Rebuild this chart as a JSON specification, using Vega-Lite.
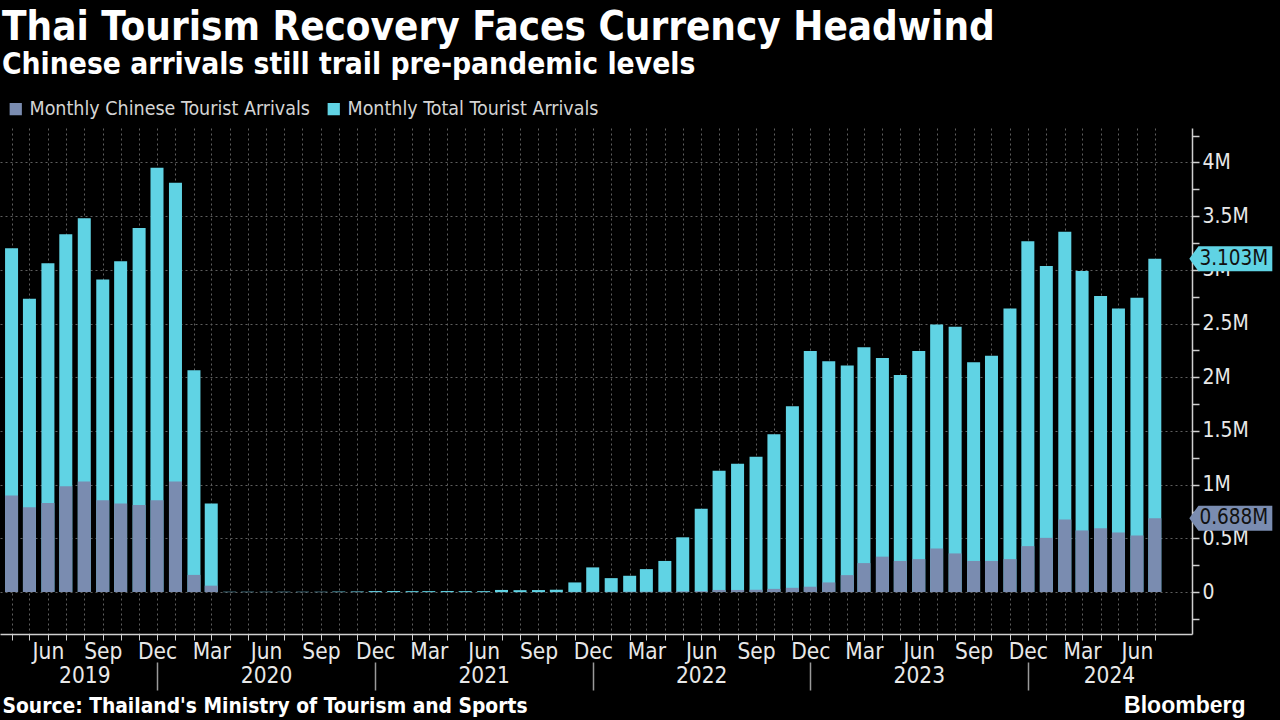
{
  "$schema": "https://vega.github.io/schema/vega-lite/v6.json",
  "autosize": {"type": "none"},
  "width": 1192,
  "height": 506,
  "padding": {"left": 0, "top": 128, "right": 88, "bottom": 86},
  "background": "#000000",
  "config": {"view": {"stroke": null}, "font": "DejaVu Sans Condensed"},
  "title": {
    "text": "Thai Tourism Recovery Faces Currency Headwind",
    "subtitle": "Chinese arrivals still trail pre-pandemic levels",
    "anchor": "start",
    "color": "#ffffff",
    "subtitleColor": "#ffffff",
    "font": "DejaVu Sans Condensed",
    "subtitleFont": "DejaVu Sans Condensed",
    "fontSize": 40,
    "subtitleFontSize": 29.7,
    "fontWeight": "bold",
    "subtitleFontWeight": "bold",
    "subtitlePadding": 3,
    "offset": 3,
    "dx": 2
  },
  "datasets": {
    "arrivals": [
      {"month": "2019-04-01", "total": 3.2, "chinese": 0.9},
      {"month": "2019-05-01", "total": 2.73, "chinese": 0.79},
      {"month": "2019-06-01", "total": 3.06, "chinese": 0.83},
      {"month": "2019-07-01", "total": 3.33, "chinese": 0.985},
      {"month": "2019-08-01", "total": 3.48, "chinese": 1.03},
      {"month": "2019-09-01", "total": 2.91, "chinese": 0.855},
      {"month": "2019-10-01", "total": 3.08, "chinese": 0.825},
      {"month": "2019-11-01", "total": 3.39, "chinese": 0.81},
      {"month": "2019-12-01", "total": 3.95, "chinese": 0.855},
      {"month": "2020-01-01", "total": 3.81, "chinese": 1.03},
      {"month": "2020-02-01", "total": 2.065, "chinese": 0.16},
      {"month": "2020-03-01", "total": 0.825, "chinese": 0.06},
      {"month": "2020-04-01", "total": 0.003, "chinese": 0.002},
      {"month": "2020-05-01", "total": 0.003, "chinese": 0.002},
      {"month": "2020-06-01", "total": 0.003, "chinese": 0.002},
      {"month": "2020-07-01", "total": 0.003, "chinese": 0.002},
      {"month": "2020-08-01", "total": 0.003, "chinese": 0.002},
      {"month": "2020-09-01", "total": 0.003, "chinese": 0.002},
      {"month": "2020-10-01", "total": 0.005, "chinese": 0.002},
      {"month": "2020-11-01", "total": 0.006, "chinese": 0.002},
      {"month": "2020-12-01", "total": 0.01, "chinese": 0.002},
      {"month": "2021-01-01", "total": 0.01, "chinese": 0.001},
      {"month": "2021-02-01", "total": 0.009, "chinese": 0.001},
      {"month": "2021-03-01", "total": 0.009, "chinese": 0.001},
      {"month": "2021-04-01", "total": 0.01, "chinese": 0.001},
      {"month": "2021-05-01", "total": 0.009, "chinese": 0.001},
      {"month": "2021-06-01", "total": 0.009, "chinese": 0.001},
      {"month": "2021-07-01", "total": 0.02, "chinese": 0.001},
      {"month": "2021-08-01", "total": 0.018, "chinese": 0.001},
      {"month": "2021-09-01", "total": 0.019, "chinese": 0.001},
      {"month": "2021-10-01", "total": 0.022, "chinese": 0.001},
      {"month": "2021-11-01", "total": 0.09, "chinese": 0.002},
      {"month": "2021-12-01", "total": 0.23, "chinese": 0.003},
      {"month": "2022-01-01", "total": 0.13, "chinese": 0.003},
      {"month": "2022-02-01", "total": 0.152, "chinese": 0.004},
      {"month": "2022-03-01", "total": 0.214, "chinese": 0.004},
      {"month": "2022-04-01", "total": 0.29, "chinese": 0.005},
      {"month": "2022-05-01", "total": 0.51, "chinese": 0.007},
      {"month": "2022-06-01", "total": 0.775, "chinese": 0.008},
      {"month": "2022-07-01", "total": 1.13, "chinese": 0.02},
      {"month": "2022-08-01", "total": 1.195, "chinese": 0.02},
      {"month": "2022-09-01", "total": 1.26, "chinese": 0.022},
      {"month": "2022-10-01", "total": 1.47, "chinese": 0.03},
      {"month": "2022-11-01", "total": 1.73, "chinese": 0.04},
      {"month": "2022-12-01", "total": 2.245, "chinese": 0.05},
      {"month": "2023-01-01", "total": 2.15, "chinese": 0.09},
      {"month": "2023-02-01", "total": 2.11, "chinese": 0.158},
      {"month": "2023-03-01", "total": 2.28, "chinese": 0.27},
      {"month": "2023-04-01", "total": 2.18, "chinese": 0.33},
      {"month": "2023-05-01", "total": 2.02, "chinese": 0.29},
      {"month": "2023-06-01", "total": 2.245, "chinese": 0.307},
      {"month": "2023-07-01", "total": 2.49, "chinese": 0.406},
      {"month": "2023-08-01", "total": 2.47, "chinese": 0.36},
      {"month": "2023-09-01", "total": 2.14, "chinese": 0.29},
      {"month": "2023-10-01", "total": 2.2, "chinese": 0.29},
      {"month": "2023-11-01", "total": 2.64, "chinese": 0.307},
      {"month": "2023-12-01", "total": 3.265, "chinese": 0.428},
      {"month": "2024-01-01", "total": 3.035, "chinese": 0.505},
      {"month": "2024-02-01", "total": 3.355, "chinese": 0.676},
      {"month": "2024-03-01", "total": 2.99, "chinese": 0.574},
      {"month": "2024-04-01", "total": 2.756, "chinese": 0.595},
      {"month": "2024-05-01", "total": 2.64, "chinese": 0.555},
      {"month": "2024-06-01", "total": 2.74, "chinese": 0.527},
      {"month": "2024-07-01", "total": 3.103, "chinese": 0.688}
    ],
    "callouts": [
      {"month": "2024-07-01", "series": "total", "value": 3.103, "label": "3.103M"},
      {"month": "2024-07-01", "series": "chinese", "value": 0.688, "label": "0.688M"}
    ]
  },
  "data": {"name": "arrivals"},
  "resolve": {"axis": {"x": "independent", "y": "independent"}},
  "layer": [
    {
      "mark": {"type": "bar", "width": 13},
      "encoding": {
        "x": {
          "field": "month",
          "type": "temporal",
          "scale": {"type": "utc", "domain": [{"year": 2019, "month": 3, "date": 21, "utc": true}, {"year": 2024, "month": 8, "date": 24, "utc": true}]},
          "axis": {
            "orient": "bottom",
            "values": [
              {"year": 2019, "month": 4, "date": 1, "utc": true}, {"year": 2019, "month": 5, "date": 1, "utc": true}, {"year": 2019, "month": 6, "date": 1, "utc": true}, {"year": 2019, "month": 7, "date": 1, "utc": true}, {"year": 2019, "month": 8, "date": 1, "utc": true}, {"year": 2019, "month": 9, "date": 1, "utc": true}, {"year": 2019, "month": 10, "date": 1, "utc": true}, {"year": 2019, "month": 11, "date": 1, "utc": true}, {"year": 2019, "month": 12, "date": 1, "utc": true},
              {"year": 2020, "month": 1, "date": 1, "utc": true}, {"year": 2020, "month": 2, "date": 1, "utc": true}, {"year": 2020, "month": 3, "date": 1, "utc": true}, {"year": 2020, "month": 4, "date": 1, "utc": true}, {"year": 2020, "month": 5, "date": 1, "utc": true}, {"year": 2020, "month": 6, "date": 1, "utc": true}, {"year": 2020, "month": 7, "date": 1, "utc": true}, {"year": 2020, "month": 8, "date": 1, "utc": true}, {"year": 2020, "month": 9, "date": 1, "utc": true}, {"year": 2020, "month": 10, "date": 1, "utc": true}, {"year": 2020, "month": 11, "date": 1, "utc": true}, {"year": 2020, "month": 12, "date": 1, "utc": true},
              {"year": 2021, "month": 1, "date": 1, "utc": true}, {"year": 2021, "month": 2, "date": 1, "utc": true}, {"year": 2021, "month": 3, "date": 1, "utc": true}, {"year": 2021, "month": 4, "date": 1, "utc": true}, {"year": 2021, "month": 5, "date": 1, "utc": true}, {"year": 2021, "month": 6, "date": 1, "utc": true}, {"year": 2021, "month": 7, "date": 1, "utc": true}, {"year": 2021, "month": 8, "date": 1, "utc": true}, {"year": 2021, "month": 9, "date": 1, "utc": true}, {"year": 2021, "month": 10, "date": 1, "utc": true}, {"year": 2021, "month": 11, "date": 1, "utc": true}, {"year": 2021, "month": 12, "date": 1, "utc": true},
              {"year": 2022, "month": 1, "date": 1, "utc": true}, {"year": 2022, "month": 2, "date": 1, "utc": true}, {"year": 2022, "month": 3, "date": 1, "utc": true}, {"year": 2022, "month": 4, "date": 1, "utc": true}, {"year": 2022, "month": 5, "date": 1, "utc": true}, {"year": 2022, "month": 6, "date": 1, "utc": true}, {"year": 2022, "month": 7, "date": 1, "utc": true}, {"year": 2022, "month": 8, "date": 1, "utc": true}, {"year": 2022, "month": 9, "date": 1, "utc": true}, {"year": 2022, "month": 10, "date": 1, "utc": true}, {"year": 2022, "month": 11, "date": 1, "utc": true}, {"year": 2022, "month": 12, "date": 1, "utc": true},
              {"year": 2023, "month": 1, "date": 1, "utc": true}, {"year": 2023, "month": 2, "date": 1, "utc": true}, {"year": 2023, "month": 3, "date": 1, "utc": true}, {"year": 2023, "month": 4, "date": 1, "utc": true}, {"year": 2023, "month": 5, "date": 1, "utc": true}, {"year": 2023, "month": 6, "date": 1, "utc": true}, {"year": 2023, "month": 7, "date": 1, "utc": true}, {"year": 2023, "month": 8, "date": 1, "utc": true}, {"year": 2023, "month": 9, "date": 1, "utc": true}, {"year": 2023, "month": 10, "date": 1, "utc": true}, {"year": 2023, "month": 11, "date": 1, "utc": true}, {"year": 2023, "month": 12, "date": 1, "utc": true},
              {"year": 2024, "month": 1, "date": 1, "utc": true}, {"year": 2024, "month": 2, "date": 1, "utc": true}, {"year": 2024, "month": 3, "date": 1, "utc": true}, {"year": 2024, "month": 4, "date": 1, "utc": true}, {"year": 2024, "month": 5, "date": 1, "utc": true}, {"year": 2024, "month": 6, "date": 1, "utc": true}, {"year": 2024, "month": 7, "date": 1, "utc": true}
            ],
            "labelExpr": "indexof([2,5,8,11], utcmonth(datum.value)) >= 0 ? utcFormat(datum.value, '%b') : ''",
            "grid": true,
            "gridColor": "#5e5e5e",
            "gridDash": [2, 3],
            "gridWidth": 1,
            "domain": true,
            "domainColor": "#cfcfcf",
            "domainWidth": 1.5,
            "ticks": true,
            "tickColor": "#cfcfcf",
            "tickSize": 6,
            "tickWidth": 1,
            "labelFont": "DejaVu Sans Condensed",
            "labelFontSize": 22.5,
            "labelColor": "#e8e8e8",
            "labelPadding": 0,
            "labelOverlap": false,
            "labelFlush": false,
            "labelBound": false,
            "title": null
          }
        },
        "y": {
          "field": "total",
          "type": "quantitative",
          "scale": {"domain": [-0.39, 4.32], "nice": false, "zero": false},
          "axis": {
            "orient": "right",
            "values": [0, 0.5, 1, 1.5, 2, 2.5, 3, 3.5, 4],
            "labelExpr": "datum.value == 0 ? '0' : datum.value + 'M'",
            "grid": true,
            "gridColor": "#5e5e5e",
            "gridDash": [2, 3],
            "gridWidth": 1,
            "domain": true,
            "domainColor": "#cfcfcf",
            "domainWidth": 1.5,
            "ticks": true,
            "tickColor": "#cfcfcf",
            "tickSize": 7,
            "tickWidth": 1.5,
            "labelFont": "DejaVu Sans Condensed",
            "labelFontSize": 21,
            "labelColor": "#e8e8e8",
            "labelPadding": 3,
            "labelOverlap": false,
            "labelFlush": false,
            "labelBound": false,
            "title": null
          }
        },
        "color": {
          "datum": "total",
          "type": "nominal",
          "scale": {"domain": ["chinese", "total"], "range": ["#7a8cb0", "#60d3e4"]},
          "legend": {
            "orient": "none",
            "legendX": 6,
            "legendY": -45,
            "direction": "horizontal",
            "title": null,
            "symbolType": "square",
            "symbolSize": 150,
            "symbolStrokeWidth": 0,
            "labelFont": "DejaVu Sans Condensed",
            "labelFontSize": 19.5,
            "labelColor": "#d4d4d4",
            "labelLimit": 400,
            "labelOffset": 4,
            "columnPadding": 14,
            "labelExpr": "datum.value == 'chinese' ? 'Monthly Chinese Tourist Arrivals' : 'Monthly Total Tourist Arrivals'"
          }
        }
      }
    },
    {
      "mark": {"type": "bar", "width": 13},
      "encoding": {
        "x": {"field": "month", "type": "temporal", "axis": null},
        "y": {
          "field": "chinese",
          "type": "quantitative",
          "axis": {
            "orient": "right",
            "values": [-0.25, 0.25, 0.75, 1.25, 1.75, 2.25, 2.75, 3.25, 3.75, 4.25],
            "labels": false,
            "grid": false,
            "domain": false,
            "ticks": true,
            "tickColor": "#cfcfcf",
            "tickSize": 7,
            "tickWidth": 1.5,
            "title": null
          }
        },
        "color": {"datum": "chinese", "type": "nominal"}
      }
    },
    {
      "mark": {"type": "point", "opacity": 0},
      "encoding": {
        "x": {
          "field": "month",
          "type": "temporal",
          "axis": {
            "orient": "bottom",
            "offset": 29,
            "values": [
              {"year": 2019, "month": 8, "date": 1, "utc": true},
              {"year": 2020, "month": 6, "date": 1, "utc": true},
              {"year": 2021, "month": 6, "date": 1, "utc": true},
              {"year": 2022, "month": 6, "date": 1, "utc": true},
              {"year": 2023, "month": 6, "date": 1, "utc": true},
              {"year": 2024, "month": 4, "date": 15, "utc": true}
            ],
            "labelExpr": "utcFormat(datum.value, '%Y')",
            "grid": false,
            "domain": false,
            "ticks": false,
            "labelFont": "DejaVu Sans Condensed",
            "labelFontSize": 22.5,
            "labelColor": "#e8e8e8",
            "labelPadding": 1,
            "labelOverlap": false,
            "labelFlush": false,
            "labelBound": false,
            "title": "Bloomberg",
            "titleFont": "Liberation Sans",
            "titleFontSize": 23,
            "titleFontWeight": "bold",
            "titleColor": "#ffffff",
            "titleAnchor": "end",
            "titleAlign": "right",
            "titleX": 1245,
            "titleY": 49,
            "titleBaseline": "alphabetic"
          }
        }
      }
    },
    {
      "mark": {"type": "point", "opacity": 0},
      "encoding": {
        "x": {
          "field": "month",
          "type": "temporal",
          "axis": {
            "orient": "bottom",
            "offset": 28,
            "values": [
              {"year": 2019, "month": 12, "date": 1, "utc": true},
              {"year": 2020, "month": 12, "date": 1, "utc": true},
              {"year": 2021, "month": 12, "date": 1, "utc": true},
              {"year": 2022, "month": 12, "date": 1, "utc": true},
              {"year": 2023, "month": 12, "date": 1, "utc": true}
            ],
            "labels": false,
            "grid": false,
            "domain": false,
            "ticks": true,
            "tickSize": 28,
            "tickWidth": 1.5,
            "tickColor": "#9a9a9a",
            "title": "Source: Thailand's Ministry of Tourism and Sports",
            "titleFont": "DejaVu Sans Condensed",
            "titleFontSize": 20.8,
            "titleFontWeight": "bold",
            "titleColor": "#ffffff",
            "titleAnchor": "start",
            "titleAlign": "left",
            "titleX": 2,
            "titleY": 50,
            "titleBaseline": "alphabetic"
          }
        }
      }
    },
    {
      "data": {"name": "callouts"},
      "mark": {"type": "point", "filled": true, "opacity": 1, "shape": "M-1,0L-0.78,-0.3L1,-0.3L1,0.3L-0.78,0.3Z", "size": 6889, "xOffset": 76},
      "encoding": {
        "x": {"field": "month", "type": "temporal", "axis": null},
        "y": {"field": "value", "type": "quantitative", "axis": null},
        "color": {"field": "series", "type": "nominal"}
      }
    },
    {
      "data": {"name": "callouts"},
      "mark": {"type": "text", "xOffset": 79, "align": "center", "baseline": "middle", "font": "DejaVu Sans Condensed", "fontSize": 20.5, "color": "#111111"},
      "encoding": {
        "x": {"field": "month", "type": "temporal", "axis": null},
        "y": {"field": "value", "type": "quantitative", "axis": null},
        "text": {"field": "label", "type": "nominal"}
      }
    }
  ]
}
